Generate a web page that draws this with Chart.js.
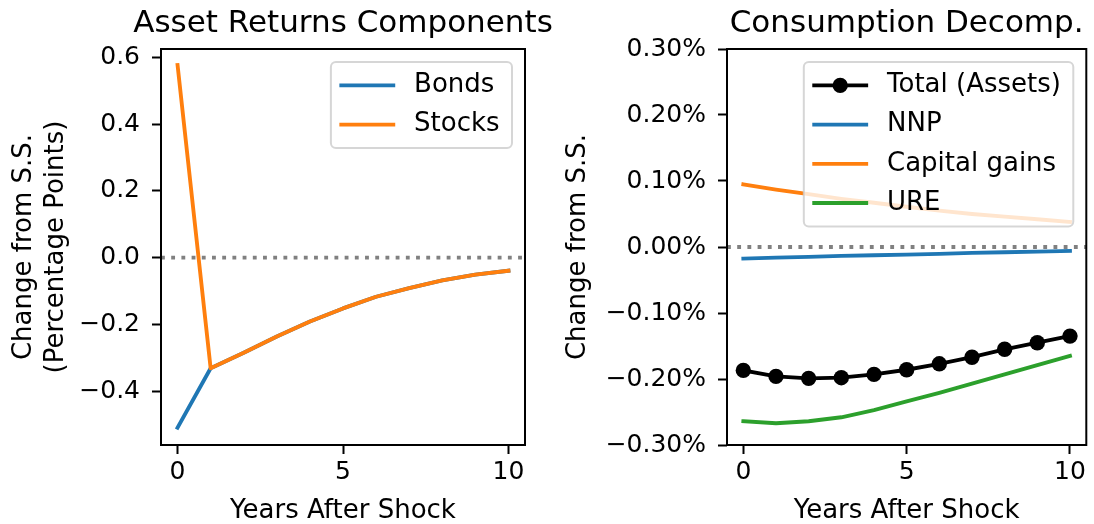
<!DOCTYPE html>
<html><head><meta charset="utf-8">
<script src="https://cdn.jsdelivr.net/npm/chart.js@4"></script>
<style>
html,body{margin:0;padding:0;background:#fff;width:1094px;height:524px;overflow:hidden}
.box{position:absolute;top:0;height:524px}
canvas{display:block}
</style></head><body>
<div class="box" style="left:0;width:580px"><canvas id="c1" width="580" height="524"></canvas></div>
<div class="box" style="left:547px;width:547px"><canvas id="c2" width="547" height="524"></canvas></div>
<script>
// ---- data ----
const years = [0, 1, 2, 3, 4, 5, 6, 7, 8, 9, 10];
const bonds  = [-0.509, -0.331, -0.285, -0.236, -0.191, -0.152, -0.117, -0.091, -0.068, -0.051, -0.039];
const stocks = [ 0.577, -0.331, -0.285, -0.236, -0.191, -0.152, -0.117, -0.091, -0.068, -0.051, -0.039];

const totalAssets  = [-0.187, -0.196, -0.199, -0.198, -0.193, -0.186, -0.177, -0.167, -0.155, -0.145, -0.135];
const nnp          = [-0.0175, -0.016, -0.015, -0.0135, -0.0125, -0.0115, -0.0105, -0.009, -0.008, -0.007, -0.006];
const capitalGains = [0.095, 0.087, 0.080, 0.073, 0.067, 0.061, 0.055, 0.050, 0.046, 0.042, 0.038];
const ure          = [-0.264, -0.267, -0.264, -0.258, -0.247, -0.234, -0.221, -0.207, -0.193, -0.179, -0.165];

const xTicks = [0, 5, 10];
const leftYTicks = [-0.4, -0.2, 0.0, 0.2, 0.4, 0.6];
const rightYTicks = [-0.3, -0.2, -0.1, 0.0, 0.1, 0.2, 0.3];
const xRange = [-0.5, 10.5];
const leftYRange = [-0.561, 0.625];
const rightYRange = [-0.3, 0.3];

const titles = ['Asset Returns Components', 'Consumption Decomp.'];
const xLabel = 'Years After Shock';
const leftYLabel = ['Change from S.S.', '(Percentage Points)'];
const rightYLabel = 'Change from S.S.';

// ---- styling ----
const FONT = '"DejaVu Sans", sans-serif';
const C = {blue:'#1f77b4', orange:'#ff7f0e', green:'#2ca02c', black:'#000000', grey:'#808080'};
const LW = 3.85;
Chart.defaults.color = '#000';
Chart.defaults.font.family = FONT;

const pts = (ys) => years.map((x, i) => ({x, y: ys[i]}));
const minus = (s) => s.replace('-', '\u2212');

function lineDs(label, ys, color, extra) {
  return Object.assign({
    label, data: pts(ys), borderColor: color, backgroundColor: color,
    borderWidth: LW, pointRadius: 0, pointHoverRadius: 0, tension: 0,
    borderCapStyle: 'square', borderJoinStyle: 'round', fill: false
  }, extra || {});
}
function zeroDs() {
  return {
    label: '_zero', mplHide: true,
    data: [{x: xRange[0], y: 0}, {x: xRange[1], y: 0}],
    borderColor: C.grey, borderWidth: LW, borderDash: [LW, LW * 1.65],
    pointRadius: 0, pointHoverRadius: 0, tension: 0, fill: false, borderCapStyle: 'butt'
  };
}

const framePlugin = {
  id: 'mplFrame',
  afterDatasetsDraw(chart) {
    const {ctx, chartArea: a} = chart;
    ctx.save();
    ctx.strokeStyle = '#000'; ctx.lineWidth = 2;
    ctx.strokeRect(a.left, a.top, a.right - a.left, a.bottom - a.top);
    ctx.restore();
  }
};
const titlePlugin = {
  id: 'mplTitle',
  afterDraw(chart, args, o) {
    const {ctx, chartArea: a} = chart;
    ctx.save();
    ctx.font = '31px ' + FONT; ctx.fillStyle = '#000';
    ctx.textAlign = 'center'; ctx.textBaseline = 'alphabetic';
    ctx.fillText(o.text, (a.left + a.right) / 2, o.y);
    ctx.restore();
  }
};
const legendPlugin = {
  id: 'mplLegend',
  afterDraw(chart) {
    const {ctx, chartArea: a} = chart;
    const fs = 26, pad = 0.4 * fs, hl = 2 * fs, htp = 0.8 * fs, rowH = 39.2;
    const items = chart.data.datasets.filter(d => !d.mplHide);
    ctx.save();
    ctx.font = fs + 'px ' + FONT;
    const maxW = Math.max(...items.map(d => ctx.measureText(d.label).width));
    const w = pad + hl + htp + maxW + pad + 2;
    const h = 2 * pad + items.length * fs + (items.length - 1) * (rowH - fs);
    const right = a.right - 0.5 * fs, top = a.top + 0.5 * fs, left = right - w;
    const r = 5;
    ctx.beginPath();
    ctx.moveTo(left + r, top);
    ctx.arcTo(right, top, right, top + h, r);
    ctx.arcTo(right, top + h, left, top + h, r);
    ctx.arcTo(left, top + h, left, top, r);
    ctx.arcTo(left, top, right, top, r);
    ctx.closePath();
    ctx.fillStyle = 'rgba(255,255,255,0.8)';
    ctx.fill();
    ctx.strokeStyle = 'rgba(204,204,204,0.8)';
    ctx.lineWidth = 2;
    ctx.stroke();
    items.forEach((d, i) => {
      const cy = top + pad + fs / 2 + i * rowH;
      const x0 = left + pad, x1 = x0 + hl;
      ctx.beginPath();
      ctx.strokeStyle = d.borderColor; ctx.lineWidth = LW; ctx.lineCap = 'square';
      ctx.moveTo(x0, cy); ctx.lineTo(x1, cy); ctx.stroke();
      if (d.pointRadius > 0) {
        ctx.beginPath(); ctx.fillStyle = d.pointBackgroundColor || d.borderColor;
        ctx.arc((x0 + x1) / 2, cy, d.pointRadius, 0, Math.PI * 2); ctx.fill();
      }
      ctx.fillStyle = '#000'; ctx.textAlign = 'left'; ctx.textBaseline = 'middle';
      ctx.fillText(d.label, x1 + htp, cy);
    });
    ctx.restore();
  }
};

function makeChart(id, cfg) {
  const datasets = cfg.datasets.map((d, i) => Object.assign(d, {order: -i}));
  return new Chart(document.getElementById(id), {
    type: 'line',
    data: {datasets},
    options: {
      responsive: false, animation: false, devicePixelRatio: 1,
      layout: {padding: {top: 49, left: 0, right: cfg.padRight, bottom: 0}},
      plugins: {legend: {display: false}, tooltip: {enabled: false},
        mplTitle: {text: cfg.title, y: 32}},
      events: [],
      scales: {
        x: {
          type: 'linear', min: xRange[0], max: xRange[1],
          afterBuildTicks: s => { s.ticks = xTicks.map(v => ({value: v})); },
          afterFit: s => { s.height = 79; },
          border: {display: false},
          grid: {display: true, drawOnChartArea: false, drawTicks: true, tickLength: 9, tickWidth: 2, tickColor: '#000'},
          ticks: {font: {size: 25}, padding: 3, maxRotation: 0, color: '#000', callback: v => String(v)},
          title: {display: true, text: xLabel, font: {size: 26, lineHeight: 1.0}, padding: {top: 0, bottom: 0}, color: '#000'}
        },
        y: {
          type: 'linear', min: cfg.yRange[0], max: cfg.yRange[1],
          afterBuildTicks: s => { s.ticks = cfg.yTicks.map(v => ({value: v})); },
          afterFit: s => { s.width = cfg.yWidth; },
          border: {display: false},
          grid: {display: true, drawOnChartArea: false, drawTicks: true, tickLength: 9, tickWidth: 2, tickColor: '#000'},
          ticks: {font: {size: 25}, padding: 12, color: '#000', callback: cfg.yFmt},
          title: {display: true, text: cfg.yLabel, font: {size: 26, lineHeight: 1.2}, padding: {top: cfg.yTitlePad, bottom: 0}, color: '#000'}
        }
      }
    },
    plugins: [framePlugin, titlePlugin, legendPlugin]
  });
}

makeChart('c1', {
  title: titles[0], padRight: 55, yWidth: 161, yTitlePad: 9,
  yRange: leftYRange, yTicks: leftYTicks, yLabel: leftYLabel,
  yFmt: v => minus((Math.abs(v) < 1e-9 ? 0 : v).toFixed(1)),
  datasets: [
    lineDs('Bonds', bonds, C.blue),
    lineDs('Stocks', stocks, C.orange),
    zeroDs()
  ]
});

makeChart('c2', {
  title: titles[1], padRight: 2, yWidth: 180, yTitlePad: 15.5,
  yRange: rightYRange, yTicks: rightYTicks, yLabel: rightYLabel,
  yFmt: v => minus((Math.abs(v) < 1e-9 ? 0 : v).toFixed(2)) + '%',
  datasets: [
    lineDs('Total (Assets)', totalAssets, C.black, {pointRadius: 7.7, pointBackgroundColor: C.black, pointBorderWidth: 0, pointBorderColor: C.black}),
    lineDs('NNP', nnp, C.blue),
    lineDs('Capital gains', capitalGains, C.orange),
    lineDs('URE', ure, C.green),
    zeroDs()
  ]
});
</script>
</body></html>
